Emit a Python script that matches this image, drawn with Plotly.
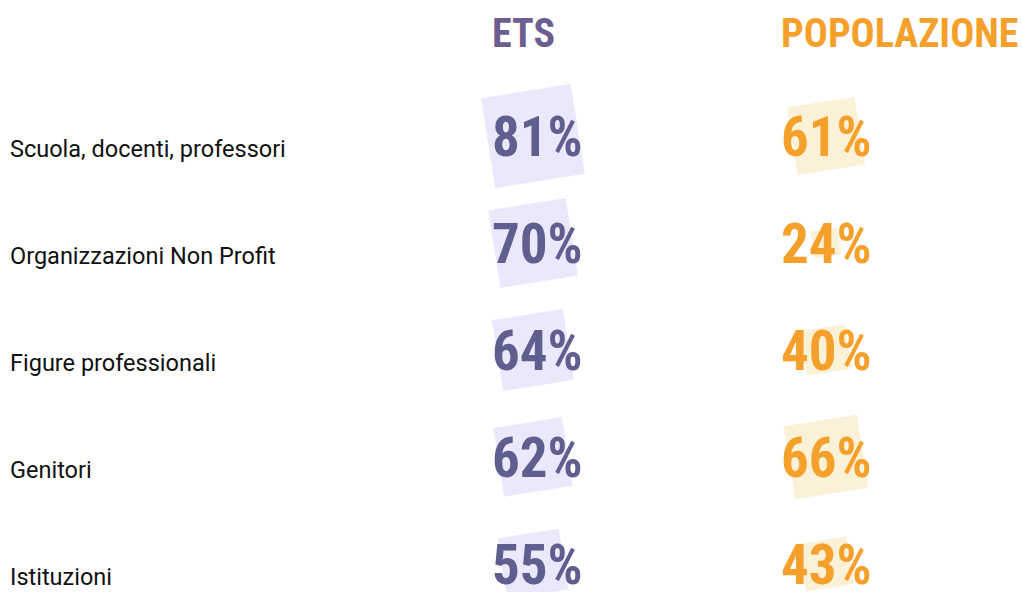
import plotly.graph_objects as go

# data
categories = ["Scuola, docenti, professori", "Organizzazioni Non Profit",
              "Figure professionali", "Genitori", "Istituzioni"]
ets = [81, 70, 64, 62, 55]
popolazione = [61, 24, 40, 66, 43]
series_names = ["ETS", "POPOLAZIONE"]

num_font = "Roboto Condensed, Roboto"
label_font = "Roboto"

cols = [
    dict(vals=ets, name=series_names[0], sq_x=533, txt_x=490,
         sq_col="#e1defa", txt_col="#5f5f8f", head_col="#6c5e91"),
    dict(vals=popolazione, name=series_names[1], sq_x=826, txt_x=779,
         sq_col="#faebc6", txt_col="#f4a02a", head_col="#f4a02a"),
]

rows = list(range(len(categories)))

fig = go.Figure()

# rotated squares, side proportional to the value
for c in cols:
    fig.add_trace(go.Scatter(
        x=[c["sq_x"]] * len(rows),
        y=rows,
        mode="markers",
        marker=dict(symbol="square", size=[v * 1.12 for v in c["vals"]],
                    color=c["sq_col"], angle=-9, line=dict(width=0)),
        hoverinfo="skip",
        showlegend=False,
    ))

annotations = []
for c in cols:
    for i, v in enumerate(c["vals"]):
        annotations.append(dict(
            x=c["txt_x"], y=i + 0.01, xref="x", yref="y",
            text=f"{v}%", showarrow=False, xanchor="left", yanchor="middle",
            font=dict(family=num_font, size=55, color=c["txt_col"], weight=700),
        ))
    annotations.append(dict(
        x=c["txt_x"], y=-0.96, xref="x", yref="y",
        text=c["name"], showarrow=False, xanchor="left", yanchor="middle",
        font=dict(family=num_font, size=40, color=c["head_col"], weight=700),
    ))

for i, lab in enumerate(categories):
    annotations.append(dict(
        x=8, y=i + 0.12, xref="x", yref="y",
        text=lab, showarrow=False, xanchor="left", yanchor="middle",
        font=dict(family=label_font, size=23.5, color="#111111"),
    ))

fig.update_layout(
    width=1022, height=592,
    margin=dict(l=0, r=0, t=0, b=0),
    plot_bgcolor="white", paper_bgcolor="white",
    xaxis=dict(range=[0, 1022], visible=False, fixedrange=True),
    yaxis=dict(range=[4.262, -1.271], visible=False, fixedrange=True),
    annotations=annotations,
    showlegend=False,
)

fig.write_html("out.html", config={"displayModeBar": False},
               post_script="document.body.style.margin='0';")
